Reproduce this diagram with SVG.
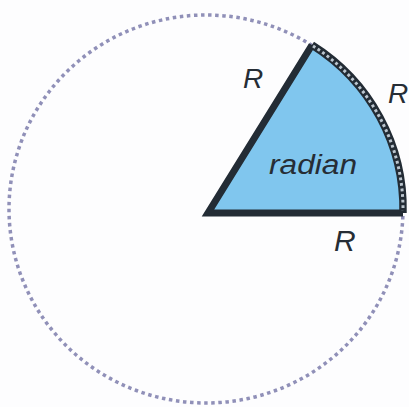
<svg xmlns="http://www.w3.org/2000/svg" width="409" height="407" viewBox="0 0 409 407">
<style>
.lbl{font-family:"Liberation Sans",Arial,sans-serif;font-style:italic;fill:#262d35}
</style>
<rect width="409" height="407" fill="#fdfdfe"/>
<g id="circle">
<ellipse cx="206" cy="209" rx="197" ry="194" fill="none" stroke="#9090b8" stroke-width="3.5" stroke-dasharray="3.5 3.6"/>
</g>
<g id="sector">
<path d="M208,213 L312,45 A197,194 0 0 1 403,213 Z" fill="#80c6ee" stroke="none"/>
<path d="M403,213 L208,213 L312,45" fill="none" stroke="#232c35" stroke-width="7" stroke-linejoin="miter" stroke-miterlimit="10"/>
<path d="M312,45 A197,194 0 0 1 403,213" fill="none" stroke="#232c35" stroke-width="7.5"/>
<path d="M313,46 A197,194 0 0 1 403,211" fill="none" stroke="#bcc6cf" stroke-width="3" stroke-dasharray="2.8 2.8"/>
<text class="lbl" x="269" y="174" font-size="27" textLength="88" lengthAdjust="spacingAndGlyphs">radian</text>
</g>
<g id="labels">
<text class="lbl" x="243" y="88" font-size="28">R</text>
<text class="lbl" x="388" y="103" font-size="28">R</text>
<text class="lbl" x="334" y="251" font-size="30">R</text>
</g>
</svg>
